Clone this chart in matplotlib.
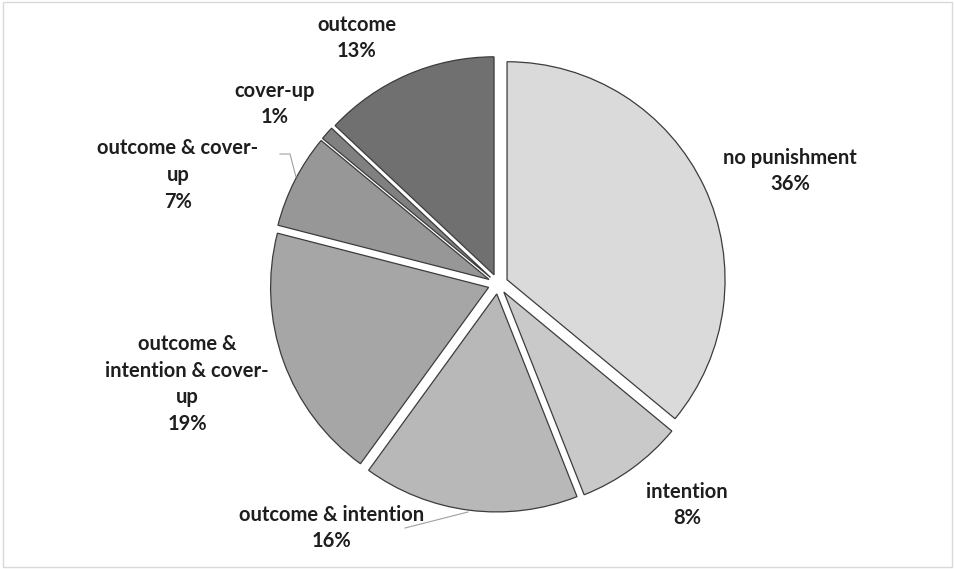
import matplotlib
matplotlib.use("Agg")
import matplotlib.pyplot as plt
from matplotlib.patches import Rectangle

# punishment categories, clockwise from 12 o'clock
labels = ["no punishment", "intention", "outcome & intention",
          "outcome &\nintention & cover-\nup", "outcome & cover-\nup",
          "cover-up", "outcome"]
shares = [36, 8, 16, 19, 7, 1, 13]
colors = ["#dadada", "#c9c9c9", "#b8b8b8", "#a6a6a6", "#979797", "#808080", "#707070"]

# label anchor points (pixel space, origin bottom-left)
label_pos = [(790, 398), (687, 64), (332, 41), (187, 185), (178, 394), (275, 465), (357, 531)]

W, H = 955, 569
fig = plt.figure(figsize=(W / 100, H / 100), dpi=100)
ax = fig.add_axes([0, 0, 1, 1])

# explode is in data units here (axes are in pixels)
ax.pie(shares, colors=colors, startangle=90, counterclock=False,
       center=(498, 285), radius=218, explode=[10] * len(shares),
       wedgeprops=dict(edgecolor="#3c3c3c", linewidth=0.9), frame=True)
ax.set_xlim(0, W)
ax.set_ylim(0, H)
ax.axis("off")

for lab, val, (x, y) in zip(labels, shares, label_pos):
    ax.text(x, y, f"{lab}\n{val}%", ha="center", va="center",
            fontsize=14.5, fontweight="bold", family="Lato",
            color="#1e1e1e", linespacing=1.42)

# leader lines
ax.plot([280, 290, 296], [H - 154, H - 154, H - 177], color="#a0a0a0", lw=0.8)
ax.plot([405, 468], [H - 528, H - 512], color="#a0a0a0", lw=0.8)

fig.patches.append(Rectangle((3, 2), W - 6, H - 4, transform=None, fill=False,
                             edgecolor="#d9d9d9", linewidth=1))

fig.savefig("out.png", dpi=100, facecolor="white")
